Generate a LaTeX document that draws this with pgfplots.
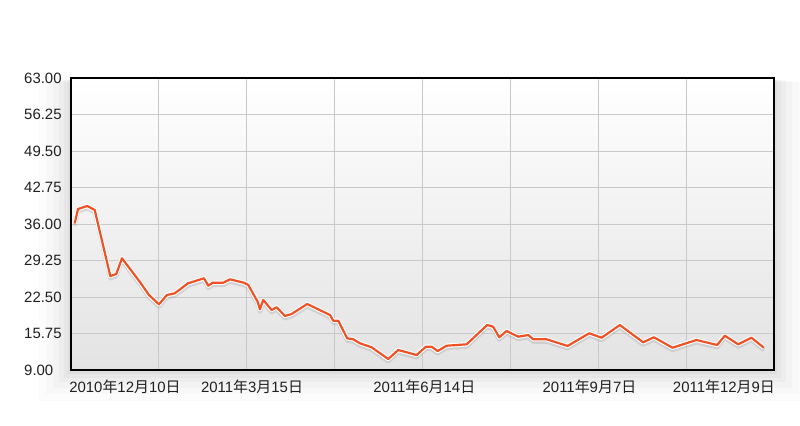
\documentclass[border=0pt]{standalone}
\usepackage{pgfplots}
\pgfplotsset{compat=1.18}
\usepackage{pgfplotstable}
\usepackage{fontspec}
\setmainfont{Liberation Sans}
\newfontfamily\cjk{Noto Sans CJK JP}
\usetikzlibrary{shadows}
\definecolor{lineor}{HTML}{EE5226}
\definecolor{gridc}{HTML}{C9C9C9}

% closing price, x in grid columns (8 columns across the plot)
\pgfplotstableread{
x y
0.042 36.13
0.080 38.77
0.185 39.33
0.270 38.59
0.447 26.38
0.515 26.75
0.580 29.66
0.782 25.33
0.887 22.87
1.001 21.15
1.092 22.87
1.180 23.18
1.331 25.03
1.513 25.96
1.562 24.59
1.612 25.14
1.733 25.14
1.809 25.77
1.968 25.14
2.017 24.72
2.124 21.63
2.150 20.23
2.188 21.95
2.283 20.10
2.340 20.60
2.435 18.99
2.511 19.36
2.688 21.21
2.947 19.17
2.984 18.12
3.041 18.12
3.143 14.86
3.212 14.68
3.288 13.94
3.421 13.20
3.610 11.03
3.724 12.70
3.933 11.77
4.039 13.31
4.104 13.31
4.172 12.51
4.274 13.49
4.502 13.75
4.736 17.32
4.804 17.01
4.873 15.05
4.957 16.21
5.089 15.16
5.203 15.47
5.260 14.68
5.412 14.68
5.651 13.44
5.897 15.79
6.038 14.97
6.246 17.32
6.511 14.12
6.633 15.05
6.845 13.12
7.118 14.55
7.353 13.62
7.440 15.34
7.592 13.75
7.744 14.97
7.884 13.12
}\price

\begin{document}
\begin{tikzpicture}
\useasboundingbox (0,0) rectangle (800bp,426bp);
\begin{axis}[
    at={(71bp,56bp)}, anchor=south west,
    scale only axis, width=703bp, height=292bp,
    xmin=0, xmax=8, ymin=9, ymax=63,
    ytick={9,15.75,22.5,29.25,36,42.75,49.5,56.25,63},
    yticklabels={9.00,15.75,22.50,29.25,36.00,42.75,49.50,56.25,63.00},
    xtick={0.614,2.06,4.02,5.90,7.43},
    xticklabels={2010{\cjk 年}12{\cjk 月}10{\cjk 日},
                 2011{\cjk 年}3{\cjk 月}15{\cjk 日},
                 2011{\cjk 年}6{\cjk 月}14{\cjk 日},
                 2011{\cjk 年}9{\cjk 月}7{\cjk 日},
                 2011{\cjk 年}12{\cjk 月}9{\cjk 日}},
    minor xtick={1,2,3,4,5,6,7},
    xminorgrids=true, ymajorgrids=true, xmajorgrids=false,
    minor grid style={gridc, line width=0.8bp},
    major grid style={gridc, line width=0.8bp},
    major tick length=0pt, minor tick length=0pt,
    axis line style={black, line width=1.6bp},
    tick label style={font=\fontsize{15}{18}\selectfont, text=black!88},
    yticklabel style={anchor=west, xshift=-47bp, inner sep=0pt},
    xticklabel style={yshift=-6bp},
    axis background/.style={
        top color=white, bottom color=black!11,
        general shadow={fill=black, opacity=0.012, shadow scale=1.09, shadow yshift=-16bp},
        general shadow={fill=black, opacity=0.015, shadow scale=1.07, shadow yshift=-13bp},
        general shadow={fill=black, opacity=0.018, shadow scale=1.05, shadow yshift=-10bp},
        general shadow={fill=black, opacity=0.022, shadow scale=1.035, shadow yshift=-7bp},
        general shadow={fill=black, opacity=0.028, shadow scale=1.02, shadow yshift=-4.5bp},
        general shadow={fill=black, opacity=0.035, shadow scale=1.008, shadow yshift=-2.5bp}},
]
\addplot[black!35, opacity=0.35, line width=4bp, line join=round, yshift=-2.5bp] table {\price};
\addplot[white, line width=4.4bp, line join=round] table {\price};
\addplot[lineor, line width=2.2bp, line join=round] table {\price};
\end{axis}
\end{tikzpicture}
\end{document}
